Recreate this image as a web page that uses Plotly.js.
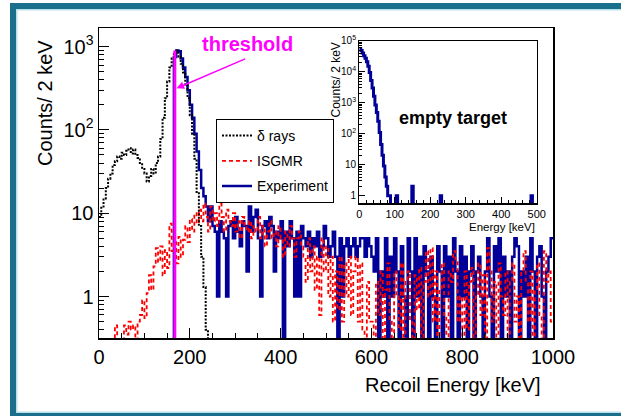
<!DOCTYPE html>
<html>
<head>
<meta charset="utf-8">
<script src="https://cdn.plot.ly/plotly-3.0.1.min.js"></script>
<style>html,body{margin:0;padding:0;background:#fff;}#chart{width:621px;height:416px;}</style>
</head>
<body>
<div id="chart"></div>
<script>
// ---------------- DATA ----------------
// Main plot: histograms, 5 keV bins starting at 0 keV
const binWidth = 5;
const binStart = 0;

// Experiment (counts / bin)
const experiment = [
  0,0,0,0,0,0,0,0,0,0, 0,0,0,0,0,0,0,0,0,0, 0,0,0,0,0,0,0,0,0,0, 0,0,0,
  750,900,880,720,560,430,300,200,140,90,55,33,20,16,12,
  8,12,7,6,1,8,6,5,1,7,
  8,5,9,6,4,8,7,2,12,6,
  9,11,5,1,7,8,5,9,7,2,
  6,5,8,0,6,4,8,5,1,6,
  1,7,5,4,6,3,5,4,6,3,
  4,7,5,3,4,6,3,0,5,1,
  4,5,3,4,5,3,4,5,5,3,5,4,
  3,2,5,0,2,1,5,0,3,1,
  5,2,0,4,1,0,5,2,0,5,
  1,3,0,4,2,0,3,1,0,4,
  2,0,4,1,3,0,5,2,0,4,
  1,3,0,2,4,0,2,3,1,0,
  2,5,1,0,4,2,5,0,3,1,
  2,0,3,5,4,0,2,1,3,0,
  5,2,0,3,4,1,0,2,3,5
];

// ISGMR simulation
const isgmr = [
  0,0,0,0,0,0,0,
  0.45,0,0,0,0.45,0.35,0.5,0.4,0.45,0,
  0.5,0.6,0.9,0.55,1.1,1.8,1.2,2.3,3.8,2.6,
  4.0,1.8,3.6,2.2,7.5,3.5,4.5,2.5,5.2,3.0,
  4.8,7.0,4.5,8.5,6.0,10,7.5,11,8.0,13,
  9,6,12,8,10,7,13,9,6,11,
  8,7,10,6,8,5,9,7,6,8,
  5,7,6,9,5,7,4,6,8,5,
  6,4,7,5,3,6,4,7,5,3,
  5,6,4,3,1.5,5,2,4,1.2,3,
  0.6,5,2,4,1,3,0.5,2,0.7,3,
  0.5,2.5,1,3,0.6,2,3,0.5,2.5,0.4,
  0,1.5,0.5,
  0.5,0,1.5,0.6,2,0,1.2,2.5,0.5,0,
  2,1,0.4,2.5,0,1.5,2,0.5,0,1.8,
  0.7,2.2,0,1.5,3.5,1,3.8,0.5,2,0,
  1.2,2.5,0.6,0,2,1.5,3.5,2.8,0.5,1,
  0,2,0.4,1.5,2.2,0,1,2.5,0.6,1.8,
  0,3.8,2,0.5,1.5,0,2.5,1,0.6,2,
  0,1.5,2.5,0.5,1,0,2,3.5,1.5,0.5,
  2,0,1.2,2.5,0.6,0,3.5,1.5,2,0.5
];

// delta rays simulation (0 - 240 keV)
const deltaRays = [
  9,12,15,20,26,30,38,42,48,45,
  53,50,56,60,52,58,50,46,40,35,
  30,24,28,34,30,40,48,78,140,240,
  380,560,720,840,900,760,620,490,350,240,
  150,90,45,18,7,3,1.3,0.4,0
];

// threshold marker
const thresholdE = 167;
const thresholdTop = 900;
const arrowTipE = 171;
const arrowTipCounts = 316;

// Inset (empty target), 4 keV bins
const insetBinWidth = 4;
const insetCurve = [55000,48000,40000,33000,27000,21000,15000,9500,5200,3000,
                    1600,850,480,250,110,45,20,9,4,2,1,1];
const insetTailE = [104,148,228,484];
const insetTailCounts = [1,2,1,1];
const insetMaxE = 500;

// tick labels
const mainXTicks = [0,200,400,600,800,1000];
const mainYTicks = [1,10,100,1000];
const mainYTickText = ['1','10','10<sup>2</sup>','10<sup>3</sup>'];
const insetXTicks = [0,100,200,300,400,500];
const insetYTicks = [1,10,100,1000,10000,100000];
const insetYTickText = ['1','10','10<sup>2</sup>','10<sup>3</sup>','10<sup>4</sup>','10<sup>5</sup>'];

// ---------------- BUILD ----------------
const ZERO = 1e-3; // empty bins drop below the log axis
function steps(start, width, vals){
  const x=[], y=[];
  for(let i=0;i<vals.length;i++){ x.push(start+i*width); y.push(vals[i]>0?vals[i]:ZERO); }
  x.push(start+vals.length*width); y.push(vals[vals.length-1]>0?vals[vals.length-1]:ZERO);
  return {x,y};
}
const nInset = insetMaxE/insetBinWidth;
const insetVals = [];
for(let i=0;i<nInset;i++){ insetVals.push(i<insetCurve.length?insetCurve[i]:0); }
insetTailE.forEach((e,k)=>{ insetVals[Math.floor(e/insetBinWidth)] = insetTailCounts[k]; });

const expS = steps(binStart, binWidth, experiment);
const isgS = steps(binStart, binWidth, isgmr);
const delS = steps(binStart, binWidth, deltaRays);
const insS = steps(0, insetBinWidth, insetVals);

function minorLog(lo, hi){
  const v=[];
  for(let d=lo; d<=hi; d++){ for(let m=2;m<=9;m++) v.push(m*Math.pow(10,d)); }
  return v;
}

const FONT = 'Liberation Sans, Arial, Helvetica, sans-serif';
const traces = [
  {x:expS.x, y:expS.y, mode:'lines', line:{shape:'hv', color:'#000099', width:2.5},
   name:'Experiment', legendrank:3, legendgroup:'c', xaxis:'x', yaxis:'y'},
  {x:isgS.x, y:isgS.y, mode:'lines', line:{shape:'hv', color:'#ff0000', width:1.8, dash:'4px,3px'},
   name:'ISGMR', legendrank:2, legendgroup:'b', xaxis:'x', yaxis:'y'},
  {x:delS.x, y:delS.y, mode:'lines', line:{shape:'hv', color:'#000000', width:2, dash:'2px,1.5px'},
   name:'δ rays', legendrank:1, legendgroup:'a', xaxis:'x', yaxis:'y'},
  {x:[thresholdE, thresholdE], y:[ZERO, thresholdTop], mode:'lines', line:{color:'#ff00ff', width:3},
   showlegend:false, hoverinfo:'skip', xaxis:'x', yaxis:'y'},
  {x:insS.x, y:insS.y, mode:'lines', line:{shape:'hv', color:'#000099', width:3},
   showlegend:false, xaxis:'x2', yaxis:'y2'}
];

// pixel helpers for decoration placement
const L=99, R=553, T=28, B=338;
const px = v => (v-L)/(R-L);
const py = v => (B-v)/(B-T);

const TEAL = '#1a6f8d', LIGHT = '#b9dfe9';
const shapes = [
  {type:'rect', xref:'paper', yref:'paper', x0:px(10), x1:px(625), y0:py(3), y1:py(9), fillcolor:TEAL, line:{width:0}, layer:'below'},
  {type:'rect', xref:'paper', yref:'paper', x0:px(16), x1:px(625), y0:py(9), y1:py(10.5), fillcolor:LIGHT, line:{width:0}, layer:'below'},
  {type:'rect', xref:'paper', yref:'paper', x0:px(10), x1:px(16), y0:py(3), y1:py(420), fillcolor:TEAL, line:{width:0}, layer:'below'},
  {type:'rect', xref:'paper', yref:'paper', x0:px(16), x1:px(17.5), y0:py(9), y1:py(412), fillcolor:LIGHT, line:{width:0}, layer:'below'},
  {type:'rect', xref:'paper', yref:'paper', x0:px(10), x1:px(625), y0:py(413), y1:py(420), fillcolor:TEAL, line:{width:0}, layer:'below'},
  {type:'rect', xref:'paper', yref:'paper', x0:px(16), x1:px(625), y0:py(411.5), y1:py(413), fillcolor:LIGHT, line:{width:0}, layer:'below'}
];

const annotations = [
  {xref:'paper', yref:'paper', x:px(247.5), y:py(44), xanchor:'center', yanchor:'middle', showarrow:false,
   text:'<b>threshold</b>', font:{family:FONT, size:20, color:'#ff00ff'}},
  {xref:'x', yref:'y', x:arrowTipE, y:Math.log10(arrowTipCounts), ax:70, ay:-30, text:'', showarrow:true,
   arrowhead:2, arrowsize:1, arrowwidth:1.5, arrowcolor:'#ff00ff'},
  {xref:'paper', yref:'paper', x:px(453), y:py(118), xanchor:'center', yanchor:'middle', showarrow:false,
   text:'<b>empty target</b>', font:{family:FONT, size:18, color:'#000'}},
  {xref:'paper', yref:'paper', x:px(543), y:py(385), xanchor:'right', yanchor:'middle', showarrow:false,
   text:'Recoil Energy [keV]', font:{family:FONT, size:20, color:'#000'}},
  {xref:'paper', yref:'paper', x:px(45), y:py(38), xanchor:'center', yanchor:'top', showarrow:false, textangle:-90,
   text:'Counts/ 2 keV', font:{family:FONT, size:20, color:'#000'}},
  {xref:'paper', yref:'paper', x:px(537), y:py(227), xanchor:'right', yanchor:'middle', showarrow:false,
   text:'Energy [keV]', font:{family:FONT, size:11.5, color:'#000'}},
  {xref:'paper', yref:'paper', x:px(335), y:py(41), xanchor:'center', yanchor:'top', showarrow:false, textangle:-90,
   text:'Counts/ 2 keV', font:{family:FONT, size:12, color:'#000'}}
];

const axBase = {showgrid:false, zeroline:false, showline:true, linecolor:'#000', linewidth:1.5, mirror:true,
                ticks:'inside', tickcolor:'#000', tickwidth:1};

const layout = {
  width:621, height:416,
  margin:{l:L, r:621-R, t:T, b:416-B, pad:0},
  paper_bgcolor:'#ffffff', plot_bgcolor:'#ffffff',
  font:{family:FONT, color:'#000'},
  showlegend:true,
  legend:{x:px(216), y:py(119), xanchor:'left', yanchor:'top', bgcolor:'#fff', bordercolor:'#000', borderwidth:1,
          font:{family:FONT, size:14, color:'#000'}, traceorder:'grouped', tracegroupgap:4},
  xaxis:Object.assign({}, axBase, {domain:[0,1], anchor:'y', range:[0,1000], tickmode:'array', tickvals:mainXTicks,
          ticklen:10, tickfont:{size:20}, minor:{ticks:'inside', ticklen:5, dtick:50, tick0:0, tickcolor:'#000', showgrid:false}}),
  yaxis:Object.assign({}, axBase, {domain:[0,1], anchor:'x', type:'log', range:[-0.498,3.223], tickmode:'array',
          tickvals:mainYTicks, ticktext:mainYTickText, ticklen:10, tickfont:{size:20},
          minor:{ticks:'inside', ticklen:5, tickmode:'array', tickvals:minorLog(-1,3), tickcolor:'#000', showgrid:false}}),
  xaxis2:Object.assign({}, axBase, {domain:[px(359.3), px(536.7)], anchor:'y2', range:[0,500], tickmode:'array',
          tickvals:insetXTicks, ticklen:6, tickfont:{size:11}, linewidth:1.2, ticklabelstandoff:0,
          minor:{ticks:'inside', ticklen:3, dtick:20, tick0:0, tickcolor:'#000', showgrid:false}}),
  yaxis2:Object.assign({}, axBase, {domain:[py(203.3), py(40.7)], anchor:'x2', type:'log', range:[-0.245,5], tickmode:'array',
          tickvals:insetYTicks, ticktext:insetYTickText, ticklen:6, tickfont:{size:10}, linewidth:1.2,
          minor:{ticks:'inside', ticklen:3, tickmode:'array', tickvals:minorLog(0,4), tickcolor:'#000', showgrid:false}}),
  shapes:shapes,
  annotations:annotations
};

Plotly.newPlot('chart', traces, layout, {displayModeBar:false, staticPlot:true});
</script>
</body>
</html>
